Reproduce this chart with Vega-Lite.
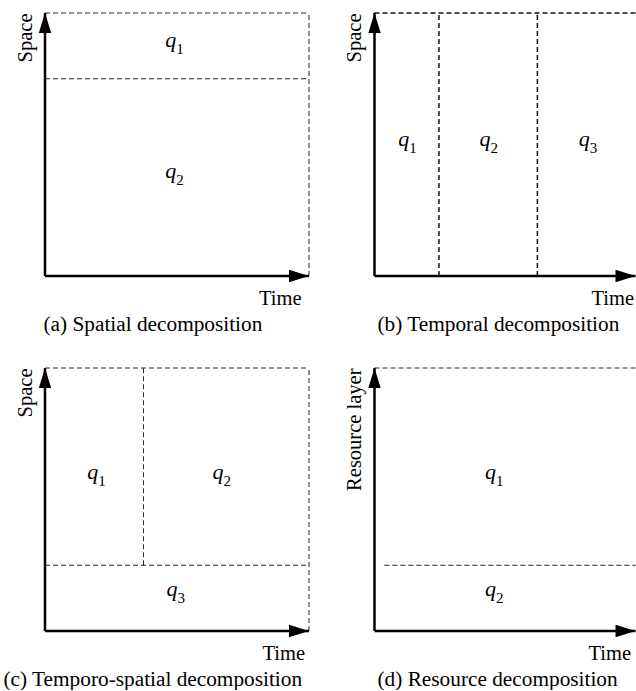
{
  "$schema": "https://vega.github.io/schema/vega-lite/v6.json",
  "padding": {"left": 3, "top": 11, "right": 0, "bottom": 0},
  "columns": 2,
  "bounds": "flush",
  "spacing": {"row": 92, "column": 65.5},
  "config": {
    "view": {"stroke": null},
    "axis": {"domain": false, "ticks": false, "labels": false, "grid": false, "titleFont": "Liberation Serif", "titleFontSize": 20.5, "titleFontWeight": "normal", "titleColor": "black"},
    "axisX": {"titleAnchor": "end", "titleAlign": "right", "titlePadding": 12},
    "axisY": {"titleAnchor": "end", "titlePadding": 10},
    "title": {"font": "Liberation Serif", "fontSize": 21.3, "fontWeight": "normal", "color": "black", "orient": "bottom", "anchor": "start", "frame": "group", "baseline": "alphabetic", "offset": 5}
  },
  "concat": [
    {
      "width": 264, "height": 263,
      "title": {"text": "(a) Spatial decomposition", "dx": -1.5},
      "layer": [
        {
          "data": {"values": [
            {"x": 0, "y": 100, "x2": 100, "y2": 100},
            {"x": 100, "y": 0, "x2": 100, "y2": 100},
            {"x": 0, "y": 75, "x2": 100, "y2": 75}
          ]},
          "mark": {"type": "rule", "strokeDash": [5, 3], "color": "#222", "strokeWidth": 1},
          "encoding": {
            "x": {"field": "x", "type": "quantitative", "scale": {"domain": [0, 100], "nice": false, "zero": false}, "axis": {"title": "Time", "titleX": 256}},
            "x2": {"field": "x2"},
            "y": {"field": "y", "type": "quantitative", "scale": {"domain": [0, 100], "nice": false, "zero": false}, "axis": {"title": "Space"}},
            "y2": {"field": "y2"}
          }
        },
        {
          "data": {"values": [{}]},
          "layer": [
            {"mark": {"type": "rule", "color": "black", "strokeWidth": 2.5}, "encoding": {"x": {"datum": 0, "type": "quantitative"}, "y": {"datum": 0, "type": "quantitative"}, "y2": {"datum": 100}}},
            {"mark": {"type": "rule", "color": "black", "strokeWidth": 2.5}, "encoding": {"x": {"datum": 0, "type": "quantitative"}, "x2": {"datum": 100}, "y": {"datum": 0, "type": "quantitative"}}},
            {"mark": {"type": "point", "shape": "M0,0L-0.62,2L0.62,2Z", "size": 400, "filled": true, "fill": "black", "opacity": 1, "strokeWidth": 0}, "encoding": {"x": {"datum": 0, "type": "quantitative"}, "y": {"datum": 100, "type": "quantitative"}}},
            {"mark": {"type": "point", "shape": "M0,0L-2,-0.62L-2,0.62Z", "size": 400, "filled": true, "fill": "black", "opacity": 1, "strokeWidth": 0}, "encoding": {"x": {"datum": 100, "type": "quantitative"}, "y": {"datum": 0, "type": "quantitative"}}}
          ]
        },
        {
          "data": {"values": [
            {"x": 49, "y": 87.1, "q": "q", "n": "1"},
            {"x": 49, "y": 37.3, "q": "q", "n": "2"}
          ]},
          "layer": [
            {"mark": {"type": "text", "font": "Liberation Serif", "fontStyle": "italic", "fontSize": 22, "align": "right", "baseline": "alphabetic", "dx": 2, "color": "black"}, "encoding": {"x": {"field": "x", "type": "quantitative"}, "y": {"field": "y", "type": "quantitative"}, "text": {"field": "q"}}},
            {"mark": {"type": "text", "font": "Liberation Serif", "fontSize": 15, "align": "left", "baseline": "alphabetic", "dx": 2, "dy": 7, "color": "black"}, "encoding": {"x": {"field": "x", "type": "quantitative"}, "y": {"field": "y", "type": "quantitative"}, "text": {"field": "n"}}}
          ]
        }
      ]
    },
    {
      "width": 261, "height": 263,
      "title": {"text": "(b) Temporal decomposition", "dx": 3},
      "layer": [
        {
          "data": {"values": [
            {"x": 0, "y": 100, "x2": 100, "y2": 100},
            {"x": 24.7, "y": 0, "x2": 24.7, "y2": 100},
            {"x": 62.4, "y": 0, "x2": 62.4, "y2": 100}
          ]},
          "mark": {"type": "rule", "strokeDash": [5, 3], "color": "#111", "strokeWidth": 1.5},
          "encoding": {
            "x": {"field": "x", "type": "quantitative", "scale": {"domain": [0, 100], "nice": false, "zero": false}, "axis": {"title": "Time", "titleX": 259}},
            "x2": {"field": "x2"},
            "y": {"field": "y", "type": "quantitative", "scale": {"domain": [0, 100], "nice": false, "zero": false}, "axis": {"title": "Space"}},
            "y2": {"field": "y2"}
          }
        },
        {
          "data": {"values": [{}]},
          "layer": [
            {"mark": {"type": "rule", "color": "black", "strokeWidth": 2.5}, "encoding": {"x": {"datum": 0, "type": "quantitative"}, "y": {"datum": 0, "type": "quantitative"}, "y2": {"datum": 100}}},
            {"mark": {"type": "rule", "color": "black", "strokeWidth": 2.5}, "encoding": {"x": {"datum": 0, "type": "quantitative"}, "x2": {"datum": 100}, "y": {"datum": 0, "type": "quantitative"}}},
            {"mark": {"type": "point", "shape": "M0,0L-0.62,2L0.62,2Z", "size": 400, "filled": true, "fill": "black", "opacity": 1, "strokeWidth": 0}, "encoding": {"x": {"datum": 0, "type": "quantitative"}, "y": {"datum": 100, "type": "quantitative"}}},
            {"mark": {"type": "point", "shape": "M0,0L-2,-0.62L-2,0.62Z", "size": 400, "filled": true, "fill": "black", "opacity": 1, "strokeWidth": 0}, "encoding": {"x": {"datum": 100, "type": "quantitative"}, "y": {"datum": 0, "type": "quantitative"}}}
          ]
        },
        {
          "data": {"values": [
            {"x": 12.5, "y": 49.4, "q": "q", "n": "1"},
            {"x": 43.7, "y": 49.4, "q": "q", "n": "2"},
            {"x": 81.7, "y": 49.4, "q": "q", "n": "3"}
          ]},
          "layer": [
            {"mark": {"type": "text", "font": "Liberation Serif", "fontStyle": "italic", "fontSize": 22, "align": "right", "baseline": "alphabetic", "dx": 2, "color": "black"}, "encoding": {"x": {"field": "x", "type": "quantitative"}, "y": {"field": "y", "type": "quantitative"}, "text": {"field": "q"}}},
            {"mark": {"type": "text", "font": "Liberation Serif", "fontSize": 15, "align": "left", "baseline": "alphabetic", "dx": 2, "dy": 7, "color": "black"}, "encoding": {"x": {"field": "x", "type": "quantitative"}, "y": {"field": "y", "type": "quantitative"}, "text": {"field": "n"}}}
          ]
        }
      ]
    },
    {
      "width": 264, "height": 263,
      "title": {"text": "(c) Temporo-spatial decomposition", "dx": -41.5},
      "layer": [
        {
          "data": {"values": [
            {"x": 0, "y": 100, "x2": 100, "y2": 100},
            {"x": 100, "y": 0, "x2": 100, "y2": 100},
            {"x": 0, "y": 25, "x2": 100, "y2": 25},
            {"x": 37.3, "y": 25, "x2": 37.3, "y2": 100}
          ]},
          "mark": {"type": "rule", "strokeDash": [5, 3], "color": "#222", "strokeWidth": 1},
          "encoding": {
            "x": {"field": "x", "type": "quantitative", "scale": {"domain": [0, 100], "nice": false, "zero": false}, "axis": {"title": "Time", "titleX": 259.5}},
            "x2": {"field": "x2"},
            "y": {"field": "y", "type": "quantitative", "scale": {"domain": [0, 100], "nice": false, "zero": false}, "axis": {"title": "Space"}},
            "y2": {"field": "y2"}
          }
        },
        {
          "data": {"values": [{}]},
          "layer": [
            {"mark": {"type": "rule", "color": "black", "strokeWidth": 2.5}, "encoding": {"x": {"datum": 0, "type": "quantitative"}, "y": {"datum": 0, "type": "quantitative"}, "y2": {"datum": 100}}},
            {"mark": {"type": "rule", "color": "black", "strokeWidth": 2.5}, "encoding": {"x": {"datum": 0, "type": "quantitative"}, "x2": {"datum": 100}, "y": {"datum": 0, "type": "quantitative"}}},
            {"mark": {"type": "point", "shape": "M0,0L-0.62,2L0.62,2Z", "size": 400, "filled": true, "fill": "black", "opacity": 1, "strokeWidth": 0}, "encoding": {"x": {"datum": 0, "type": "quantitative"}, "y": {"datum": 100, "type": "quantitative"}}},
            {"mark": {"type": "point", "shape": "M0,0L-2,-0.62L-2,0.62Z", "size": 400, "filled": true, "fill": "black", "opacity": 1, "strokeWidth": 0}, "encoding": {"x": {"datum": 100, "type": "quantitative"}, "y": {"datum": 0, "type": "quantitative"}}}
          ]
        },
        {
          "data": {"values": [
            {"x": 19.4, "y": 57.8, "q": "q", "n": "1"},
            {"x": 66.9, "y": 57.8, "q": "q", "n": "2"},
            {"x": 49.4, "y": 13.3, "q": "q", "n": "3"}
          ]},
          "layer": [
            {"mark": {"type": "text", "font": "Liberation Serif", "fontStyle": "italic", "fontSize": 22, "align": "right", "baseline": "alphabetic", "dx": 2, "color": "black"}, "encoding": {"x": {"field": "x", "type": "quantitative"}, "y": {"field": "y", "type": "quantitative"}, "text": {"field": "q"}}},
            {"mark": {"type": "text", "font": "Liberation Serif", "fontSize": 15, "align": "left", "baseline": "alphabetic", "dx": 2, "dy": 7, "color": "black"}, "encoding": {"x": {"field": "x", "type": "quantitative"}, "y": {"field": "y", "type": "quantitative"}, "text": {"field": "n"}}}
          ]
        }
      ]
    },
    {
      "width": 261, "height": 263,
      "title": {"text": "(d) Resource decomposition", "dx": 3},
      "layer": [
        {
          "data": {"values": [
            {"x": 0, "y": 100, "x2": 100, "y2": 100},
            {"x": 3.8, "y": 25, "x2": 100, "y2": 25}
          ]},
          "mark": {"type": "rule", "strokeDash": [5, 3], "color": "#222", "strokeWidth": 1},
          "encoding": {
            "x": {"field": "x", "type": "quantitative", "scale": {"domain": [0, 100], "nice": false, "zero": false}, "axis": {"title": "Time", "titleX": 256}},
            "x2": {"field": "x2"},
            "y": {"field": "y", "type": "quantitative", "scale": {"domain": [0, 100], "nice": false, "zero": false}, "axis": {"title": "Resource layer"}},
            "y2": {"field": "y2"}
          }
        },
        {
          "data": {"values": [{}]},
          "layer": [
            {"mark": {"type": "rule", "color": "black", "strokeWidth": 2.5}, "encoding": {"x": {"datum": 0, "type": "quantitative"}, "y": {"datum": 0, "type": "quantitative"}, "y2": {"datum": 100}}},
            {"mark": {"type": "rule", "color": "black", "strokeWidth": 2.5}, "encoding": {"x": {"datum": 0, "type": "quantitative"}, "x2": {"datum": 100}, "y": {"datum": 0, "type": "quantitative"}}},
            {"mark": {"type": "point", "shape": "M0,0L-0.62,2L0.62,2Z", "size": 400, "filled": true, "fill": "black", "opacity": 1, "strokeWidth": 0}, "encoding": {"x": {"datum": 0, "type": "quantitative"}, "y": {"datum": 100, "type": "quantitative"}}},
            {"mark": {"type": "point", "shape": "M0,0L-2,-0.62L-2,0.62Z", "size": 400, "filled": true, "fill": "black", "opacity": 1, "strokeWidth": 0}, "encoding": {"x": {"datum": 100, "type": "quantitative"}, "y": {"datum": 0, "type": "quantitative"}}}
          ]
        },
        {
          "data": {"values": [
            {"x": 45.8, "y": 57.8, "q": "q", "n": "1"},
            {"x": 45.8, "y": 13.3, "q": "q", "n": "2"}
          ]},
          "layer": [
            {"mark": {"type": "text", "font": "Liberation Serif", "fontStyle": "italic", "fontSize": 22, "align": "right", "baseline": "alphabetic", "dx": 2, "color": "black"}, "encoding": {"x": {"field": "x", "type": "quantitative"}, "y": {"field": "y", "type": "quantitative"}, "text": {"field": "q"}}},
            {"mark": {"type": "text", "font": "Liberation Serif", "fontSize": 15, "align": "left", "baseline": "alphabetic", "dx": 2, "dy": 7, "color": "black"}, "encoding": {"x": {"field": "x", "type": "quantitative"}, "y": {"field": "y", "type": "quantitative"}, "text": {"field": "n"}}}
          ]
        }
      ]
    }
  ]
}
